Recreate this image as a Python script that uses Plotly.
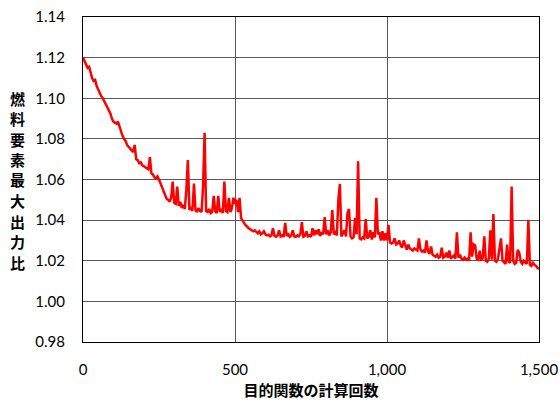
import plotly.graph_objects as go

step = 5
values = [
    1.1200, 1.1185, 1.1170, 1.1150, 1.1155, 1.1120, 1.1100, 1.1085, 1.1090, 1.1060,
    1.1040, 1.1030, 1.1010, 1.1000, 1.0985, 1.0975, 1.0955, 1.0940, 1.0925, 1.0900,
    1.0885, 1.0880, 1.0875, 1.0885, 1.0860, 1.0830, 1.0815, 1.0800, 1.0790, 1.0770,
    1.0760, 1.0750, 1.0745, 1.0735, 1.0770, 1.0700, 1.0695, 1.0680, 1.0685, 1.0670,
    1.0665, 1.0660, 1.0655, 1.0650, 1.0710, 1.0630, 1.0625, 1.0610, 1.0605, 1.0615,
    1.0600, 1.0580, 1.0565, 1.0545, 1.0525, 1.0505, 1.0500, 1.0490, 1.0510, 1.0590,
    1.0485, 1.0480, 1.0565, 1.0470, 1.0490, 1.0460, 1.0475, 1.0455, 1.0550, 1.0696,
    1.0450, 1.0465, 1.0445, 1.0580, 1.0450, 1.0440, 1.0460, 1.0445, 1.0440, 1.0565,
    1.0830, 1.0445, 1.0440, 1.0455, 1.0435, 1.0440, 1.0520, 1.0445, 1.0435, 1.0520,
    1.0440, 1.0455, 1.0435, 1.0590, 1.0445, 1.0440, 1.0510, 1.0440, 1.0460, 1.0510,
    1.0480, 1.0500, 1.0440, 1.0510, 1.0410, 1.0395, 1.0385, 1.0375, 1.0365, 1.0360,
    1.0355, 1.0350, 1.0345, 1.0350, 1.0340, 1.0335, 1.0345, 1.0330, 1.0335, 1.0345,
    1.0330, 1.0325, 1.0328, 1.0320, 1.0325, 1.0360, 1.0322, 1.0318, 1.0325, 1.0350,
    1.0320, 1.0325, 1.0318, 1.0387, 1.0322, 1.0330, 1.0318, 1.0325, 1.0350, 1.0320,
    1.0318, 1.0325, 1.0320, 1.0330, 1.0390, 1.0318, 1.0322, 1.0345, 1.0320, 1.0325,
    1.0318, 1.0360, 1.0325, 1.0350, 1.0330, 1.0355, 1.0322, 1.0340, 1.0330, 1.0415,
    1.0330, 1.0350, 1.0325, 1.0340, 1.0450, 1.0330, 1.0340, 1.0325, 1.0500, 1.0578,
    1.0320, 1.0335, 1.0350, 1.0320, 1.0435, 1.0455, 1.0320, 1.0310, 1.0315, 1.0410,
    1.0330, 1.0690, 1.0310, 1.0305, 1.0315, 1.0310, 1.0405, 1.0310, 1.0320, 1.0350,
    1.0305, 1.0340, 1.0315, 1.0510, 1.0330, 1.0340, 1.0300, 1.0345, 1.0300, 1.0335,
    1.0300, 1.0377, 1.0290, 1.0285, 1.0290, 1.0310, 1.0280, 1.0285, 1.0300, 1.0275,
    1.0265, 1.0300, 1.0270, 1.0255, 1.0280, 1.0260, 1.0255, 1.0250, 1.0260, 1.0255,
    1.0250, 1.0310, 1.0255, 1.0245, 1.0250, 1.0240, 1.0300, 1.0245, 1.0235, 1.0270,
    1.0230, 1.0225, 1.0220, 1.0230, 1.0215, 1.0220, 1.0264, 1.0215, 1.0220, 1.0240,
    1.0215, 1.0250, 1.0210, 1.0220, 1.0225, 1.0210, 1.0340, 1.0215, 1.0230, 1.0210,
    1.0205, 1.0215, 1.0205, 1.0210, 1.0200, 1.0340, 1.0220, 1.0280, 1.0275, 1.0210,
    1.0205, 1.0250, 1.0200, 1.0215, 1.0320, 1.0200, 1.0195, 1.0210, 1.0350, 1.0205,
    1.0430, 1.0200, 1.0195, 1.0210, 1.0254, 1.0310, 1.0200, 1.0190, 1.0185, 1.0280,
    1.0195, 1.0190, 1.0565, 1.0200, 1.0185, 1.0190, 1.0254, 1.0240, 1.0195, 1.0185,
    1.0200, 1.0190, 1.0185, 1.0400, 1.0180, 1.0175, 1.0190, 1.0180, 1.0175, 1.0165,
    1.0160,
]
iterations = [i * step for i in range(len(values))]

x_title = "目的関数の計算回数"
y_title = "燃料要素最大出力比"
x_ticks = [0, 500, 1000, 1500]
y_ticks = [0.98, 1.00, 1.02, 1.04, 1.06, 1.08, 1.10, 1.12, 1.14]

fig = go.Figure()
fig.add_trace(go.Scatter(x=iterations, y=values, mode="lines",
                         line=dict(color="#FF0000", width=2.5), showlegend=False))

# vertical stacked y-axis title, one character per annotation
title_anns = []
plot_h = 325.0
for i, ch in enumerate(y_title):
    py = 98 + 20.5 * i          # page pixel centre
    title_anns.append(dict(text=ch, xref="paper", yref="paper",
                           x=(17 - 83) / 456.0, y=(342 - py) / plot_h,
                           xanchor="center", yanchor="middle", showarrow=False,
                           font=dict(family="Noto Sans CJK JP", size=15, weight="bold")))

grid = "#595959"
fig.update_layout(
    width=560, height=400,
    margin=dict(l=83, r=21, t=17, b=58, autoexpand=False),
    paper_bgcolor="white", plot_bgcolor="white",
    font=dict(family="Lato, 'Liberation Sans', sans-serif", size=15, color="#000000"),
    xaxis=dict(range=[0, 1500], tickvals=x_ticks, tickformat=",d", automargin=False,
               ticklabeloverflow="allow",
               showgrid=True, gridcolor=grid, gridwidth=1,
               showline=True, linecolor="#000000", linewidth=1, mirror=True,
               ticks="", ticklabelstandoff=14, zeroline=False,
               title=dict(text=x_title, standoff=8,
                          font=dict(family="Noto Sans CJK JP", size=15, weight="bold"))),
    yaxis=dict(range=[0.98, 1.14], tickvals=y_ticks, tickformat=".2f", automargin=False,
               ticklabeloverflow="allow",
               showgrid=True, gridcolor=grid, gridwidth=1,
               showline=True, linecolor="#000000", linewidth=1, mirror=True,
               ticks="", ticklabelstandoff=14, zeroline=False),
    annotations=title_anns,
)

fig.write_html("out.html", config={"displayModeBar": False},
               post_script="document.body.style.margin='0';document.body.style.overflow='hidden';")
